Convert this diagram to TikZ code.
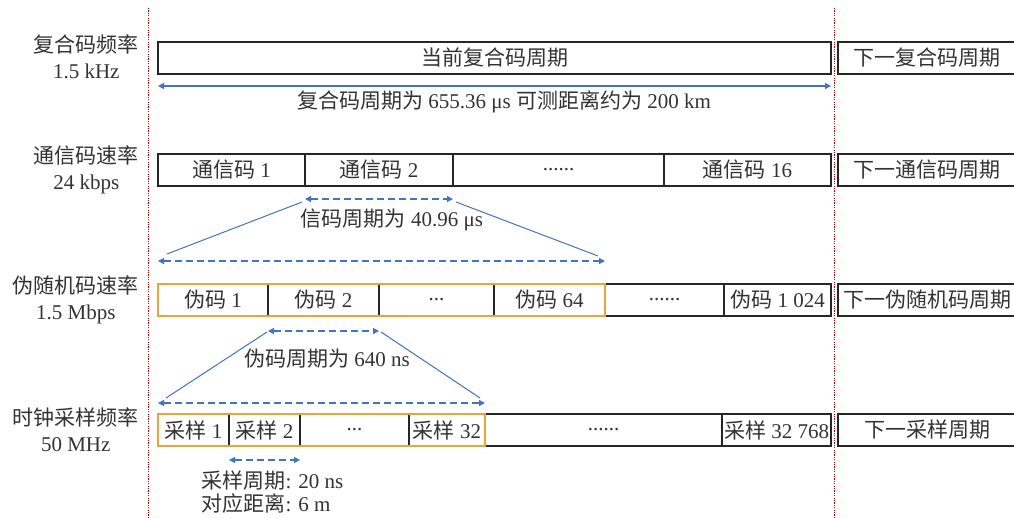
\documentclass[tikz,border=0pt]{standalone}
\usepackage{fontspec}
\setmainfont{Liberation Serif}
\newfontfamily\cjk{Noto Sans CJK SC}
\newcommand\zh[1]{{\cjk #1}}
\usetikzlibrary{positioning,arrows.meta}
\definecolor{lineblue}{HTML}{4472C4}
\definecolor{codeorange}{HTML}{E9A43C}
\definecolor{markred}{HTML}{C00000}
\definecolor{inkgray}{HTML}{333333}
\begin{document}
\begin{tikzpicture}[x=1pt,y=-1pt,
  font=\fontsize{21}{26}\selectfont, text=inkgray,
  cell/.style={draw=black!85, line width=1.2pt, minimum height=32pt, inner sep=0pt, outer sep=0pt},
  rate/.style={align=center, anchor=east, inner sep=0pt},
  span/.style={lineblue, line width=1.2pt, {Triangle[length=6pt,width=6pt]}-{Triangle[length=6pt,width=6pt]}},
  dspan/.style={span, dash pattern=on 7pt off 4pt},
  guide/.style={lineblue, line width=1pt},
  frame/.style={codeorange, line width=1.5pt},
  cut/.style={markred, line width=0.9pt, dash pattern=on 1.2pt off 1.2pt}]
\useasboundingbox (0,0) rectangle (1014,517);
% 周期分界
\draw[cut] (148,8)--(148,517);
\draw[cut] (834,8)--(834,517);
% 复合码
\node[rate] (f1) at (139,57) {\zh{复合码频率}\\1.5 kHz};
\node[cell,minimum width=673pt] (c0) at (494.5,58) {\zh{当前复合码周期}};
\node[cell,minimum width=178pt,anchor=west] (cn) at (838,58) {\zh{下一复合码周期}};
\draw[span] ([yshift=-12pt]c0.south west)--([yshift=-12pt]c0.south east);
\node (cl) at (504,102) {\zh{复合码周期为} 655.36 μs \zh{可测距离约为} 200 km};
% 通信码
\node[rate] (f2) at (139,170) {\zh{通信码速率}\\24 kbps};
\node[cell,minimum width=147pt,anchor=west] (t1) at (158,170) {\zh{通信码} 1};
\node[cell,minimum width=148pt,right=0pt of t1] (t2) {\zh{通信码} 2};
\node[cell,minimum width=211pt,right=0pt of t2] (t3) {......};
\node[cell,minimum width=167pt,right=0pt of t3] (t4) {\zh{通信码} 16};
\node[cell,minimum width=178pt,anchor=west] (tn) at (838,170) {\zh{下一通信码周期}};
\draw[dspan] ([yshift=-13pt]t2.south west) coordinate (ta)--([yshift=-13pt]t2.south east) coordinate (tb);
\node (tl) at (392,220) {\zh{信码周期为} 40.96 μs};
% 伪随机码
\node[rate] (f3) at (139,300) {\zh{伪随机码速率}\\1.5 Mbps};
\node[cell,minimum width=110pt,anchor=west] (p1) at (158,300) {\zh{伪码} 1};
\node[cell,minimum width=111pt,right=0pt of p1] (p2) {\zh{伪码} 2};
\node[cell,minimum width=115pt,right=0pt of p2] (p3) {...};
\node[cell,minimum width=111pt,right=0pt of p3] (p4) {\zh{伪码} 64};
\node[cell,minimum width=119pt,right=0pt of p4] (p5) {......};
\node[cell,minimum width=107pt,right=0pt of p5] (p6) {\zh{伪码} 1 024};
\node[cell,minimum width=178pt,anchor=west] (pn) at (838,300) {\zh{下一伪随机码周期}};
\draw[frame] (p1.north west) rectangle (p4.south east);
\draw[dspan] ([yshift=23pt]p1.north west) coordinate (pa)--([yshift=23pt]p4.north east) coordinate (pb);
\draw[guide] ([shift={(9pt,7pt)}]pa)--([shift={(-3pt,-3pt)}]ta);
\draw[guide] ([shift={(3pt,-3pt)}]tb)--([shift={(-7pt,5pt)}]pb);
\draw[dspan] ([yshift=-15pt]p2.south west) coordinate (pc)--([yshift=-15pt]p2.south east) coordinate (pd);
\node (pl) at (327,359) {\zh{伪码周期为} 640 ns};
% 采样
\node[rate] (f4) at (139,430) {\zh{时钟采样频率}\\50 MHz};
\node[cell,minimum width=71pt,anchor=west] (s1) at (158,430) {\zh{采样} 1};
\node[cell,minimum width=71pt,right=0pt of s1] (s2) {\zh{采样} 2};
\node[cell,minimum width=109pt,right=0pt of s2] (s3) {...};
\node[cell,minimum width=76pt,right=0pt of s3] (s4) {\zh{采样} 32};
\node[cell,minimum width=237pt,right=0pt of s4] (s5) {......};
\node[cell,minimum width=109pt,right=0pt of s5] (s6) {\zh{采样} 32 768};
\node[cell,minimum width=178pt,anchor=west] (sn) at (838,430) {\zh{下一采样周期}};
\draw[frame] (s1.north west) rectangle (s4.south east);
\draw[dspan] ([yshift=11pt]s1.north west) coordinate (sa)--([yshift=11pt]s4.north east) coordinate (sb);
\draw[guide] ([shift={(8pt,5pt)}]sa)--([shift={(-1pt,-1pt)}]pc);
\draw[guide] ([shift={(2pt,-1pt)}]pd)--([shift={(-5pt,5pt)}]sb);
\draw[dspan] ([yshift=-14pt]s2.south west)--([yshift=-14pt]s2.south east);
\node[align=left,anchor=west,font=\fontsize{21}{23}\selectfont] (sl) at (198,492) {\zh{采样周期}: 20 ns\\\zh{对应距离}: 6 m};
\end{tikzpicture}
\end{document}
